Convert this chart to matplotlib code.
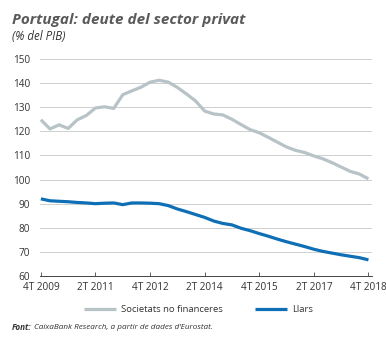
import matplotlib.pyplot as plt
import numpy as np

# quarterly series, 4T 2009 .. 4T 2018 (% of GDP)
quarters = ['4T 2009', '1T 2010', '2T 2010', '3T 2010', '4T 2010',
            '1T 2011', '2T 2011', '3T 2011', '4T 2011',
            '1T 2012', '2T 2012', '3T 2012', '4T 2012',
            '1T 2013', '2T 2013', '3T 2013', '4T 2013',
            '1T 2014', '2T 2014', '3T 2014', '4T 2014',
            '1T 2015', '2T 2015', '3T 2015', '4T 2015',
            '1T 2016', '2T 2016', '3T 2016', '4T 2016',
            '1T 2017', '2T 2017', '3T 2017', '4T 2017',
            '1T 2018', '2T 2018', '3T 2018', '4T 2018']

societats = [124.8, 121.0, 122.7, 121.2, 124.8, 126.6, 129.7, 130.2, 129.5,
             135.2, 136.8, 138.3, 140.4, 141.2, 140.4, 138.2, 135.5, 132.6,
             128.4, 127.2, 126.8, 125.0, 122.8, 120.7, 119.4, 117.5, 115.5,
             113.5, 112.1, 111.2, 109.8, 108.6, 107.0, 105.2, 103.4, 102.3,
             100.3]

llars = [92.0, 91.2, 91.0, 90.8, 90.5, 90.3, 90.0, 90.2, 90.3, 89.6, 90.3,
         90.3, 90.2, 90.0, 89.2, 87.8, 86.7, 85.5, 84.3, 82.8, 81.8, 81.2,
         79.8, 78.8, 77.6, 76.5, 75.3, 74.2, 73.2, 72.2, 71.1, 70.2, 69.5,
         68.8, 68.2, 67.6, 66.7]

tick_labels = ['4T 2009', '2T 2011', '4T 2012', '2T 2014', '4T 2015', '2T 2017', '4T 2018']
yticks = [60, 70, 80, 90, 100, 110, 120, 130, 140, 150]

plt.rcParams['font.family'] = ['Open Sans', 'DejaVu Sans']

gray = '#b7c3c7'
blue = '#0f6fb6'
txt = '#333333'

fig = plt.figure(figsize=(3.86, 3.38), dpi=100)
ax = fig.add_axes([0.1036, 0.1834, 0.8604, 0.642])

x = np.arange(len(quarters))
ax.plot(x, societats, color=gray, lw=2.3, solid_capstyle='butt', label='Societats no financeres')
ax.plot(x, llars, color=blue, lw=2.3, solid_capstyle='butt', label='Llars')

ax.set_xlim(-0.1, 36.4)
ax.set_ylim(60, 150)
ax.set_yticks(yticks)
ax.set_yticklabels([str(v) for v in yticks], fontsize=7.2, color=txt)
ax.set_xticks([quarters.index(t) for t in tick_labels])
ax.set_xticklabels(tick_labels, fontsize=7.2, color=txt)
ax.tick_params(axis='y', length=0, pad=7)
ax.tick_params(axis='x', direction='in', length=3, width=0.6, color='#444444', pad=4)
ax.grid(axis='y', color='#cfcfcf', lw=0.7)
ax.set_axisbelow(True)
for s in ['top', 'right', 'left']:
    ax.spines[s].set_visible(False)
ax.spines['bottom'].set_color('#444444')
ax.spines['bottom'].set_linewidth(0.7)

fig.text(0.031, 0.94, 'Portugal: deute del sector privat', fontsize=11,
         fontweight='bold', style='italic', color='#5a5a5a', va='center')
fig.text(0.031, 0.893, '(% del PIB)', fontsize=8.3, style='italic', color=txt, va='center')

fig.legend(loc='center', bbox_to_anchor=(0.514, 0.083), ncol=2, frameon=False,
           fontsize=6.8, handlelength=3.4, columnspacing=3.4, handletextpad=0.55,
           labelcolor=txt)

# source line: bold "Font:" followed by the rest in italic
src = fig.text(0.031, 0.03, 'Font:', fontsize=5.9, style='italic', fontweight='bold',
               color=txt, va='center')
ax.annotate('CaixaBank Research, a partir de dades d\u2019Eurostat.', xy=(1, 0.5),
            xycoords=src, xytext=(1.5, 0), textcoords='offset points',
            va='center', ha='left', fontsize=5.9, style='italic', color=txt)

fig.savefig('out.png', dpi=100)
